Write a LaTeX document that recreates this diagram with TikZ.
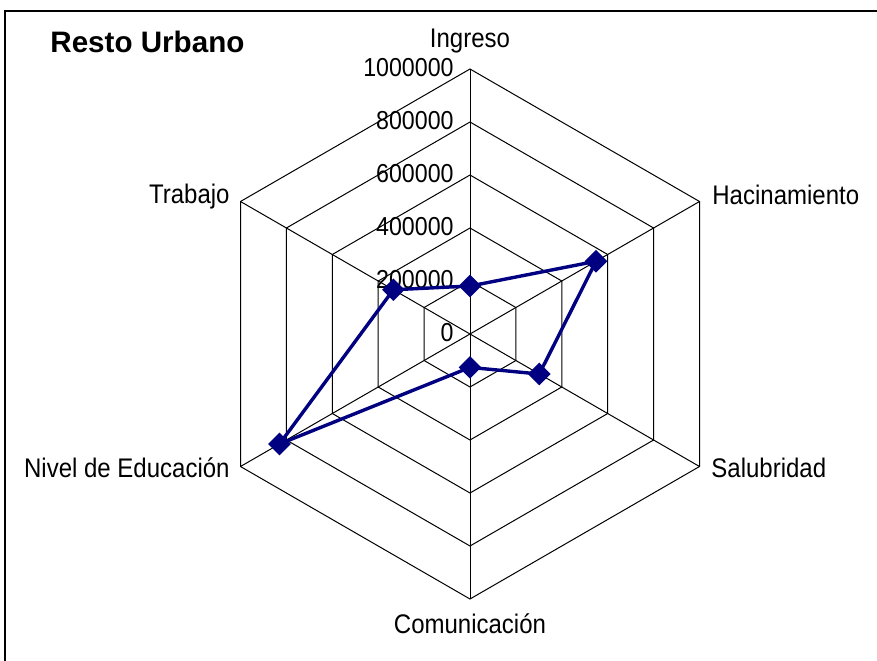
\documentclass[tikz,border=0pt]{standalone}
\usepackage{fontspec}
\setmainfont{Liberation Sans}
\usetikzlibrary{shapes.geometric}
\definecolor{navyline}{RGB}{0,0,128}
\newcommand{\talltext}[1]{\scalebox{1}[1.12]{#1}}

\begin{document}
\begin{tikzpicture}[x=0.5pt,y=0.5pt,
  grid/.style={draw=black, line width=0.5pt},
  axislabel/.style={inner sep=0, font=\fontsize{12}{14}\selectfont},
  ticklabel/.style={inner sep=0, anchor=east, font=\fontsize{11.6}{14}\selectfont},
  datapoint/.style={shape=diamond, fill=navyline, inner sep=0, minimum size=11.5pt},
  dataline/.style={draw=navyline, line width=1.7pt}]
\useasboundingbox (-470,-326) rectangle (407,334);
% frame, cut off at the right and bottom
\draw[line width=1.1pt] (-465,323) rectangle (420,-340);
\node[anchor=base west, inner sep=0, font=\fontsize{14.8}{17}\selectfont\bfseries] (title) at (-420,282) {Resto Urbano};
% rings and spokes
\foreach \k in {1,...,5}
  \draw[grid] (90:{53*\k}) -- (30:{53*\k}) -- (-30:{53*\k}) -- (-90:{53*\k}) -- (-150:{53*\k}) -- (150:{53*\k}) -- cycle;
\foreach \a in {90,30,-30,-90,-150,150}
  \draw[grid] (0,0) -- (\a:265);
% scale
\foreach \k/\v in {0/0,1/200000,2/400000,3/600000,4/800000,5/1000000}
  \node[ticklabel] (tick\k) at (-16,{53*\k+1}) {\talltext{\v}};
% categories
\node[axislabel, anchor=base] (ingreso) at (0,287) {\talltext{Ingreso}};
\node[axislabel, anchor=base west] (hacinamiento) at (242,130) {\talltext{Hacinamiento}};
\node[axislabel, anchor=base west] (salubridad) at (241,-143) {\talltext{Salubridad}};
\node[axislabel, anchor=base] (comunicacion) at (0,-299) {\talltext{Comunicación}};
\node[axislabel, anchor=base east] (educacion) at (-240,-143) {\talltext{Nivel de Educación}};
\node[axislabel, anchor=base east] (trabajo) at (-240,131) {\talltext{Trabajo}};
% data, in thousands
\foreach \i/\a/\v in {1/90/181,2/30/549,3/-30/302,4/-90/126,5/-150/830,6/150/334}
  \node[datapoint] (p\i) at (\a:{0.265*\v}) {};
\draw[dataline] (p1.center) -- (p2.center) -- (p3.center) -- (p4.center) -- (p5.center) -- (p6.center) -- cycle;
\end{tikzpicture}
\end{document}
